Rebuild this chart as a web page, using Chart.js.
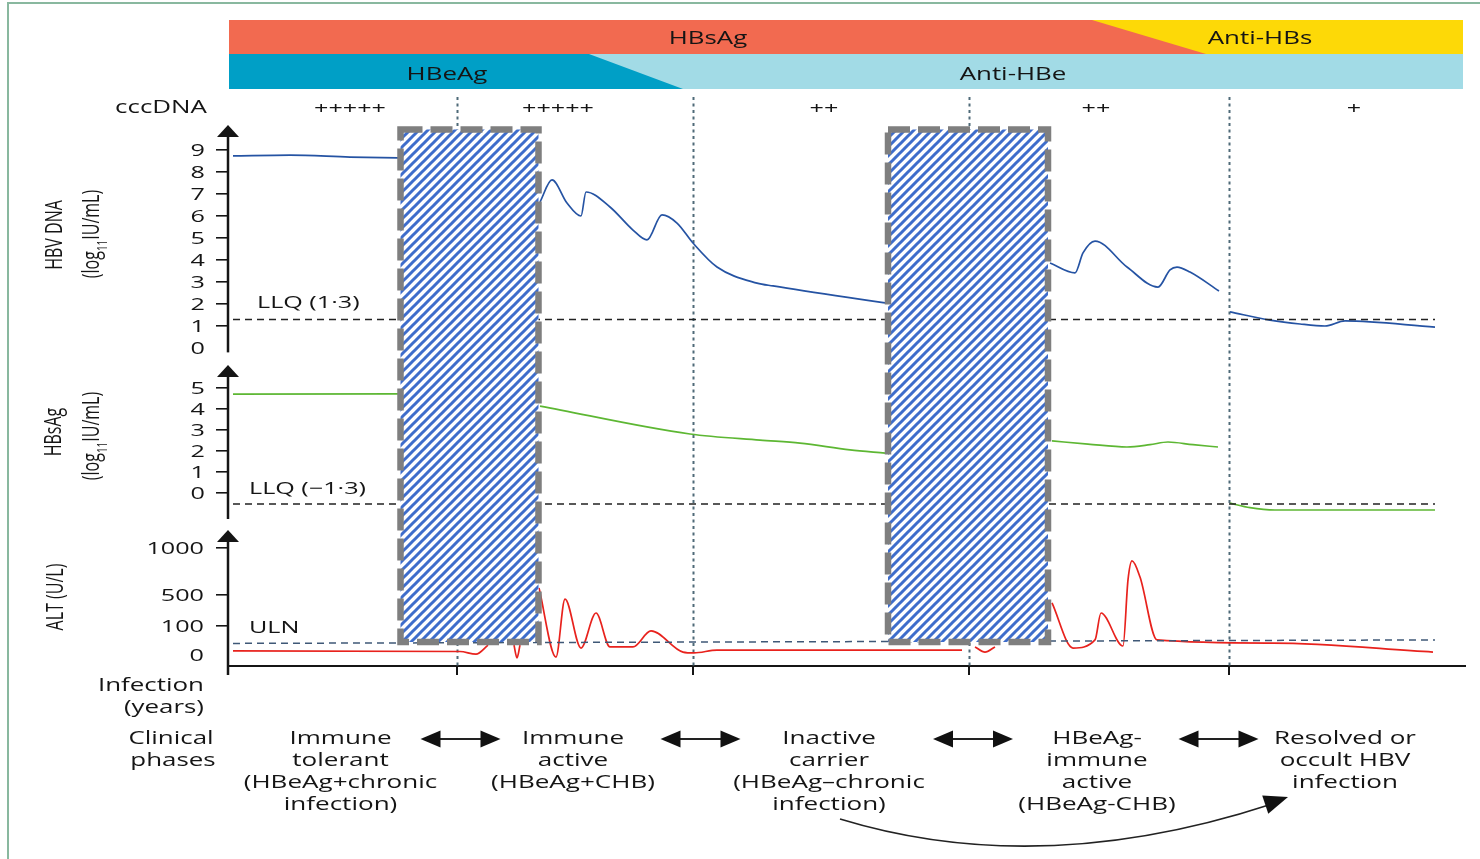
<!DOCTYPE html>
<html>
<head>
<meta charset="utf-8">
<script src="https://cdn.jsdelivr.net/npm/chart.js@4.4.1/dist/chart.umd.min.js"></script>
<style>
html, body { margin: 0; padding: 0; background: #fff; }
canvas { display: block; }
</style>
</head>
<body>
<canvas id="chartHbvPhases" width="1480" height="859" style="width:1480px;height:859px"></canvas>
<script>
// x runs in arbitrary time units along the course of infection (0 = infection)
var phaseBounds = [22.9, 46.5, 74.1, 100.1];
var phaseNames = [
    ['Immune', 'tolerant', '(HBeAg+chronic', 'infection)'],
    ['Immune', 'active', '(HBeAg+CHB)'],
    ['Inactive', 'carrier', '(HBeAg\u2013chronic', 'infection)'],
    ['HBeAg-', 'immune', 'active', '(HBeAg-CHB)'],
    ['Resolved or', 'occult HBV', 'infection']
];
var cccdnaLevels = ['+++++', '+++++', '++', '++', '+'];
var cccdnaX = [12.2, 33.0, 59.6, 86.8, 112.6];

// serology bars: where HBeAg and HBsAg fade out (top edge, bottom edge)
var hbeagLoss = [36.1, 45.5];
var hbsagLoss = [86.4, 97.8];

// periods without data (hatched)
var hatchedSpans = [[17.25, 31.05], [66.0, 82.0]];

var dnaTicks = [0, 1, 2, 3, 4, 5, 6, 7, 8, 9];
var hbsTicks = [0, 1, 2, 3, 4, 5];
var altTicks = [0, 100, 500, 1000];
var altAxisStops = [0, 29, 60, 107]; // ALT axis is broken, not linear

// HBV DNA (log IU/mL)
var dnaSeg1 = [[0.5, 8.73], [6.2, 8.77], [12.2, 8.68], [17.0, 8.64]];
var dnaSeg2 = [[31.2, 6.64], [32.4, 7.64], [33.9, 6.59], [35.3, 6.0], [35.8, 7.09], [38.2, 6.41], [40.5, 5.36],
    [41.9, 4.91], [43.4, 6.05], [44.9, 5.68], [46.5, 4.77], [48.9, 3.68], [52.9, 2.95], [54.5, 2.82], [65.7, 2.05]];
var dnaSeg3 = [[82.2, 3.86], [84.7, 3.41], [85.5, 4.32], [86.7, 4.86], [89.9, 3.68], [93.0, 2.77], [94.2, 3.55],
    [94.9, 3.68], [96.2, 3.45], [99.1, 2.59]];
var dnaSeg4 = [[100.2, 1.64], [104.2, 1.27], [107.2, 1.09], [109.7, 1.0], [111.7, 1.23], [120.7, 0.95]];
var dnaLLQ = [[0.5, 1.3], [120.7, 1.3]];

// HBsAg (log IU/mL)
var hbsSeg1 = [[0.5, 4.71], [17.0, 4.72]];
var hbsSeg2 = [[31.2, 4.14], [46.2, 2.81], [53.2, 2.52], [57.2, 2.38], [62.2, 2.05], [65.7, 1.9]];
var hbsSeg3 = [[82.4, 2.48], [86.0, 2.33], [89.9, 2.19], [92.2, 2.3], [94.0, 2.43], [96.5, 2.3], [99.0, 2.19]];
var hbsSeg4 = [[100.2, -0.48], [102.2, -0.7], [104.7, -0.81], [120.7, -0.81]];
var hbsLLQ = [[0.5, -0.52], [120.7, -0.52]];

// ALT (U/L)
var altSeg1 = [[0.5, 14], [23.2, 12], [24.8, 3], [26.0, 34]];
var altSeg1b = [[28.6, 34], [28.9, -10], [29.2, 34]];
var altSeg2 = [[31.1, 574], [32.8, -7], [33.7, 448], [35.3, 24], [36.8, 268], [38.2, 28], [40.5, 28], [42.3, 83],
    [45.5, 10], [46.6, 7], [48.9, 17], [73.4, 17]];
var altSeg2b = [[74.7, 28], [75.7, 10], [76.7, 28]];
var altSeg3 = [[82.4, 397], [84.5, 24], [86.7, 52], [87.3, 268], [89.5, 31], [90.0, 660], [90.4, 862], [91.2, 691],
    [92.9, 52], [104.5, 41], [120.5, 10]];
var altULN = [[0.5, 40], [120.7, 52]];

var SX = 1.48; // the figure's lettering is stretched sideways
var FONT = '"Open Sans", "DejaVu Sans", sans-serif';
var INK = '#151515';

function altToAxis(v) {
    if (v <= 0) return v * altAxisStops[1] / altTicks[1];
    for (var i = 1; i < altTicks.length; i++) {
        if (v <= altTicks[i] || i === altTicks.length - 1) {
            var t = (v - altTicks[i - 1]) / (altTicks[i] - altTicks[i - 1]);
            return altAxisStops[i - 1] + t * (altAxisStops[i] - altAxisStops[i - 1]);
        }
    }
}

function pts(seg, f) {
    return seg.map(function (p) { return { x: p[0], y: f ? f(p[1]) : p[1] }; });
}

function curve(seg, axis, color, f) {
    return { data: pts(seg, f), yAxisID: axis, borderColor: color, borderWidth: 1.7, pointRadius: 0,
        fill: false, clip: false, cubicInterpolationMode: 'monotone' };
}

function dashed(seg, axis, color, f) {
    return { data: pts(seg, f), yAxisID: axis, borderColor: color, borderWidth: 1.5, borderDash: [7, 5],
        pointRadius: 0, fill: false, clip: false, tension: 0 };
}

var BLUE = '#2553a3', GREEN = '#5db733', RED = '#e8221d';

var datasets = [
    dashed(dnaLLQ, 'yDna', '#222'),
    dashed(hbsLLQ, 'yHbs', '#222'),
    dashed(altULN, 'yAlt', '#3f5877', altToAxis),
    curve(dnaSeg1, 'yDna', BLUE), curve(dnaSeg2, 'yDna', BLUE), curve(dnaSeg3, 'yDna', BLUE), curve(dnaSeg4, 'yDna', BLUE),
    curve(hbsSeg1, 'yHbs', GREEN), curve(hbsSeg2, 'yHbs', GREEN), curve(hbsSeg3, 'yHbs', GREEN), curve(hbsSeg4, 'yHbs', GREEN),
    curve(altSeg1, 'yAlt', RED, altToAxis), curve(altSeg1b, 'yAlt', RED, altToAxis), curve(altSeg2, 'yAlt', RED, altToAxis),
    curve(altSeg2b, 'yAlt', RED, altToAxis), curve(altSeg3, 'yAlt', RED, altToAxis)
];

// text with the sideways stretch; y is the middle of the capitals
function sText(ctx, txt, x, y, size, align, rot) {
    ctx.save();
    ctx.translate(x, y);
    ctx.scale(SX, 1);
    if (rot) ctx.rotate(-Math.PI / 2);
    ctx.font = size + 'px ' + FONT;
    ctx.fillStyle = INK;
    ctx.textAlign = align || 'center';
    ctx.textBaseline = 'alphabetic';
    ctx.fillText(txt, 0, size * 0.357);
    ctx.restore();
}

function logUnitLabel(ctx, x, y, size) {
    ctx.save();
    ctx.translate(x, y);
    ctx.scale(SX, 1);
    ctx.rotate(-Math.PI / 2);
    ctx.fillStyle = INK;
    ctx.textAlign = 'left';
    ctx.textBaseline = 'alphabetic';
    var big = size + 'px ' + FONT, small = Math.round(size * 0.62) + 'px ' + FONT;
    ctx.font = big;
    var w1 = ctx.measureText('(log').width, w3 = ctx.measureText('IU/mL)').width;
    ctx.font = small;
    var w2 = ctx.measureText('11').width;
    var x0 = -(w1 + w2 + w3) / 2, base = size * 0.357;
    ctx.font = big; ctx.fillText('(log', x0, base);
    ctx.font = small; ctx.fillText('11', x0 + w1, base + size * 0.3);
    ctx.font = big; ctx.fillText('IU/mL)', x0 + w1 + w2, base);
    ctx.restore();
}

function axisArrow(ctx, x, tip, bottom) {
    ctx.beginPath();
    ctx.moveTo(x, tip + 10);
    ctx.lineTo(x, bottom);
    ctx.stroke();
    ctx.beginPath();
    ctx.moveTo(x, tip);
    ctx.lineTo(x - 11, tip + 12);
    ctx.lineTo(x + 11, tip + 12);
    ctx.closePath();
    ctx.fill();
}

function head(ctx, tx, ty, dx, dy, len, half) {
    var n = Math.sqrt(dx * dx + dy * dy);
    dx /= n; dy /= n;
    ctx.beginPath();
    ctx.moveTo(tx, ty);
    ctx.lineTo(tx - dx * len - dy * half, ty - dy * len + dx * half);
    ctx.lineTo(tx - dx * len + dy * half, ty - dy * len - dx * half);
    ctx.closePath();
    ctx.fill();
}

var hatchPattern = null;
function getHatch(ctx) {
    if (hatchPattern) return hatchPattern;
    var c = document.createElement('canvas');
    c.width = 9; c.height = 9;
    var g = c.getContext('2d');
    g.fillStyle = '#fff';
    g.fillRect(0, 0, 9, 9);
    g.strokeStyle = '#3e6dcb';
    g.lineWidth = 3;
    g.beginPath();
    g.moveTo(-2, 11); g.lineTo(11, -2);
    g.moveTo(-2, 2); g.lineTo(2, -2);
    g.moveTo(7, 11); g.lineTo(11, 7);
    g.stroke();
    hatchPattern = ctx.createPattern(c, 'repeat');
    return hatchPattern;
}

var hbvDecor = {
    id: 'hbvDecor',
    beforeDraw: function (chart) {
        var ctx = chart.ctx, xs = chart.scales.x, area = chart.chartArea;
        ctx.save();
        ctx.fillStyle = '#fff';
        ctx.fillRect(0, 0, chart.width, chart.height);

        ctx.strokeStyle = '#89b89f';
        ctx.lineWidth = 2;
        ctx.beginPath();
        ctx.moveTo(8, chart.height);
        ctx.lineTo(8, 3);
        ctx.lineTo(chart.width, 3);
        ctx.stroke();

        var L = area.left + 1, R = area.right - 2;
        ctx.fillStyle = '#f26a50';
        ctx.fillRect(L, 20, R - L, 34);
        ctx.fillStyle = '#fdd907';
        ctx.beginPath();
        ctx.moveTo(xs.getPixelForValue(hbsagLoss[0]), 20);
        ctx.lineTo(R, 20);
        ctx.lineTo(R, 54);
        ctx.lineTo(xs.getPixelForValue(hbsagLoss[1]), 54);
        ctx.closePath();
        ctx.fill();

        ctx.fillStyle = '#a2dbe6';
        ctx.fillRect(L, 54, R - L, 35);
        ctx.fillStyle = '#009fc6';
        ctx.beginPath();
        ctx.moveTo(L, 54);
        ctx.lineTo(xs.getPixelForValue(hbeagLoss[0]), 54);
        ctx.lineTo(xs.getPixelForValue(hbeagLoss[1]), 89);
        ctx.lineTo(L, 89);
        ctx.closePath();
        ctx.fill();

        sText(ctx, 'HBsAg', 708, 38, 17.5);
        sText(ctx, 'Anti-HBs', 1260, 38, 17.5);
        sText(ctx, 'HBeAg', 447, 73.5, 17.5);
        sText(ctx, 'Anti-HBe', 1013, 73.5, 17.5);

        sText(ctx, 'cccDNA', 207, 107, 17.5, 'right');
        cccdnaLevels.forEach(function (lv, i) {
            sText(ctx, lv, xs.getPixelForValue(cccdnaX[i]), 108, 17);
        });
        ctx.restore();
    },
    beforeDatasetsDraw: function (chart) {
        var ctx = chart.ctx, xs = chart.scales.x, area = chart.chartArea;
        ctx.save();
        ctx.strokeStyle = '#4f6a78';
        ctx.lineWidth = 2;
        ctx.setLineDash([3, 3.5]);
        phaseBounds.forEach(function (b) {
            var x = Math.round(xs.getPixelForValue(b)) + 0.5;
            ctx.beginPath();
            ctx.moveTo(x, 97);
            ctx.lineTo(x, area.bottom);
            ctx.stroke();
        });
        ctx.setLineDash([]);

        ctx.strokeStyle = INK;
        ctx.fillStyle = INK;
        ctx.lineWidth = 2.5;
        var ax = area.left;
        var yd = chart.scales.yDna, yh = chart.scales.yHbs, ya = chart.scales.yAlt;
        axisArrow(ctx, ax, yd.top - 2, yd.getPixelForValue(-0.2));
        axisArrow(ctx, ax, yh.top + 7, yh.bottom - 3);
        axisArrow(ctx, ax, ya.top + 8, area.bottom + 9);
        ctx.restore();
    },
    afterDatasetsDraw: function (chart) {
        var ctx = chart.ctx, xs = chart.scales.x, area = chart.chartArea;
        ctx.save();
        var top = area.top + 2.5, bottom = area.bottom - 24;
        hatchedSpans.forEach(function (s) {
            var x0 = xs.getPixelForValue(s[0]), x1 = xs.getPixelForValue(s[1]);
            ctx.fillStyle = getHatch(ctx);
            ctx.fillRect(x0, top, x1 - x0, bottom - top);
            ctx.strokeStyle = '#7f7f7f';
            ctx.lineWidth = 6.5;
            ctx.setLineDash([22, 8]);
            ctx.strokeRect(x0, top, x1 - x0, bottom - top);
        });
        ctx.setLineDash([]);

        // tick labels
        var yd = chart.scales.yDna, yh = chart.scales.yHbs, ya = chart.scales.yAlt;
        dnaTicks.forEach(function (v) { sText(ctx, String(v), 205, yd.getPixelForValue(v), 17, 'right'); });
        hbsTicks.forEach(function (v) { sText(ctx, String(v), 205, yh.getPixelForValue(v), 17, 'right'); });
        altTicks.forEach(function (v) { sText(ctx, String(v), 204, ya.getPixelForValue(altToAxis(v)), 17, 'right'); });

        // axis titles
        sText(ctx, 'HBV DNA', 54, 235, 16, 'center', true);
        logUnitLabel(ctx, 91, 234, 16);
        sText(ctx, 'HBsAg', 53, 432, 16, 'center', true);
        logUnitLabel(ctx, 91, 436, 16);
        sText(ctx, 'ALT (U/L)', 55, 597, 16, 'center', true);

        sText(ctx, 'LLQ (1\u00b73)', 257, 302, 17, 'left');
        sText(ctx, 'LLQ (\u22121\u00b73)', 249, 488, 17, 'left');
        sText(ctx, 'ULN', 249, 627, 17, 'left');

        sText(ctx, 'Infection', 204, 685, 17.5, 'right');
        sText(ctx, '(years)', 204, 707, 17.5, 'right');
        sText(ctx, 'Clinical', 171, 737.5, 17.5);
        sText(ctx, 'phases', 173, 759.5, 17.5);

        var edges = [0].concat(phaseBounds, [xs.max]);
        phaseNames.forEach(function (lines, i) {
            var cx = xs.getPixelForValue((edges[i] + edges[i + 1]) / 2) - 2;
            lines.forEach(function (t, j) { sText(ctx, t, cx, 737.5 + j * 22, 17.6); });
        });

        // double arrows between phases
        ctx.strokeStyle = '#222';
        ctx.fillStyle = '#111';
        ctx.lineWidth = 2;
        [460.5, 700.5, 973, 1218.5].forEach(function (cx) {
            ctx.beginPath();
            ctx.moveTo(cx - 30, 739);
            ctx.lineTo(cx + 30, 739);
            ctx.stroke();
            head(ctx, cx - 40, 739, -1, 0, 20, 8.5);
            head(ctx, cx + 40, 739, 1, 0, 20, 8.5);
        });

        // inactive carrier -> resolved
        ctx.lineWidth = 1.6;
        ctx.beginPath();
        ctx.moveTo(840, 819);
        ctx.quadraticCurveTo(1040, 880, 1272, 804);
        ctx.stroke();
        head(ctx, 1288, 797, 1288 - 1040, 797 - 880, 24, 9.5);
        ctx.restore();
    }
};

var altRange = { min: -11, max: 133 };

new Chart(document.getElementById('chartHbvPhases'), {
    type: 'line',
    data: { datasets: datasets },
    options: {
        responsive: false,
        animation: false,
        events: [],
        layout: { padding: { left: 228, right: 15, top: 127, bottom: 193 } },
        plugins: { legend: { display: false }, tooltip: { enabled: false } },
        scales: {
            x: {
                type: 'linear',
                position: 'bottom',
                min: 0,
                max: 123.7,
                border: { display: true, color: INK, width: 2 },
                grid: { drawOnChartArea: false, drawTicks: true, tickLength: 9, color: INK, lineWidth: 2 },
                ticks: { display: false },
                afterBuildTicks: function (s) {
                    s.ticks = [0].concat(phaseBounds).map(function (v) { return { value: v }; });
                },
                afterFit: function (s) { s.height = 0; }
            },
            yDna: {
                type: 'linear',
                position: 'left',
                stack: 'panels',
                stackWeight: 231,
                weight: 3,
                min: -0.455,
                max: 10.045,
                border: { display: false },
                grid: { drawOnChartArea: false, drawTicks: true, tickLength: 12, color: INK, lineWidth: 1.6 },
                ticks: { display: false },
                afterBuildTicks: function (s) {
                    s.ticks = dnaTicks.filter(function (v) { return v > 0; }).map(function (v) { return { value: v }; });
                },
                afterFit: function (s) { s.width = 0; }
            },
            yHbs: {
                type: 'linear',
                position: 'left',
                stack: 'panels',
                stackWeight: 164,
                weight: 2,
                min: -1.381,
                max: 6.43,
                border: { display: false },
                grid: { drawOnChartArea: false, drawTicks: true, tickLength: 12, color: INK, lineWidth: 1.6 },
                ticks: { display: false },
                afterBuildTicks: function (s) {
                    s.ticks = hbsTicks.map(function (v) { return { value: v }; });
                },
                afterFit: function (s) { s.width = 0; }
            },
            yAlt: {
                type: 'linear',
                position: 'left',
                stack: 'panels',
                stackWeight: 144,
                weight: 1,
                min: altRange.min,
                max: altRange.max,
                border: { display: false },
                grid: { drawOnChartArea: false, drawTicks: true, tickLength: 12, color: INK, lineWidth: 1.6 },
                ticks: { display: false },
                afterBuildTicks: function (s) {
                    s.ticks = altTicks.filter(function (v) { return v > 0; }).map(function (v) { return { value: altToAxis(v) }; });
                },
                afterFit: function (s) { s.width = 0; }
            }
        }
    },
    plugins: [hbvDecor]
});
</script>
</body>
</html>
